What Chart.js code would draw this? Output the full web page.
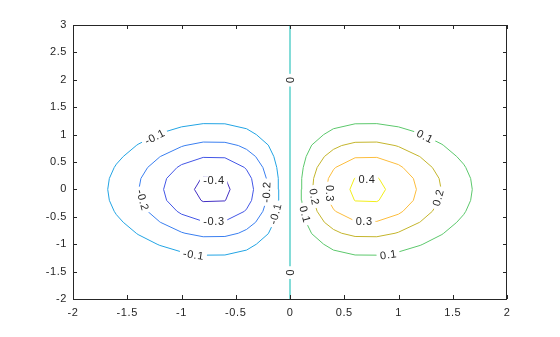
<!DOCTYPE html>
<html>
<head>
<meta charset="utf-8">
<script src="https://cdn.jsdelivr.net/npm/chart.js@4.4.1/dist/chart.umd.min.js"></script>
<style>
  html, body { margin: 0; background: #fff; }
</style>
</head>
<body>
<canvas id="contourChart" width="560" height="337"></canvas>
<script>
// contour of z = x*exp(-x^2-y^2), levels -0.4 .. 0.4

const xTicks = [-2, -1.5, -1, -0.5, 0, 0.5, 1, 1.5, 2];
const yTicks = [-2, -1.5, -1, -0.5, 0, 0.5, 1, 1.5, 2, 2.5, 3];

const levels = [-0.4, -0.3, -0.2, -0.1, 0, 0.1, 0.2, 0.3, 0.4];

// right lobe
const p01x = [0.104, 0.108, 0.122, 0.149, 0.2, 0.31, 0.4, 0.6, 0.8, 1.0, 1.2, 1.225, 1.4, 1.417, 1.537, 1.6, 1.62, 1.665, 1.68, 1.665, 1.62, 1.6, 1.537, 1.417, 1.4, 1.225, 1.2, 1.0, 0.8, 0.6, 0.4, 0.31, 0.2, 0.149, 0.122, 0.108, 0.104];
const p01y = [0, 0.2, 0.4, 0.6, 0.808, 1.0, 1.107, 1.197, 1.2, 1.141, 1.022, 1.0, 0.824, 0.8, 0.6, 0.461, 0.4, 0.2, 0, -0.2, -0.4, -0.461, -0.6, -0.8, -0.824, -1.0, -1.022, -1.141, -1.2, -1.197, -1.107, -1.0, -0.808, -0.6, -0.4, -0.2, 0];
const p02x = [0.209, 0.218, 0.25, 0.317, 0.4, 0.476, 0.6, 0.8, 0.968, 1.0, 1.195, 1.2, 1.312, 1.374, 1.393, 1.374, 1.312, 1.2, 1.195, 1.0, 0.968, 0.8, 0.6, 0.476, 0.4, 0.317, 0.25, 0.218, 0.209];
const p02y = [0, 0.2, 0.4, 0.6, 0.73, 0.8, 0.859, 0.864, 0.8, 0.781, 0.6, 0.593, 0.4, 0.2, 0, -0.2, -0.4, -0.593, -0.6, -0.781, -0.8, -0.864, -0.859, -0.8, -0.73, -0.6, -0.4, -0.2, 0];
const p03x = [0.336, 0.354, 0.4, 0.42, 0.6, 0.8, 1.0, 1.041, 1.137, 1.165, 1.137, 1.041, 1.0, 0.8, 0.6, 0.42, 0.4, 0.354, 0.336];
const p03y = [0, 0.2, 0.357, 0.4, 0.577, 0.584, 0.452, 0.4, 0.2, 0, -0.2, -0.4, -0.452, -0.584, -0.577, -0.4, -0.357, -0.2, 0];
const p04x = [0.552, 0.594, 0.6, 0.8, 0.82, 0.881, 0.82, 0.8, 0.6, 0.594, 0.552];
const p04y = [0, 0.2, 0.21, 0.223, 0.2, 0, -0.2, -0.223, -0.21, -0.2, 0];

// left lobe
const n01x = [-0.104, -0.108, -0.122, -0.149, -0.2, -0.31, -0.4, -0.6, -0.8, -1.0, -1.2, -1.225, -1.4, -1.417, -1.537, -1.6, -1.62, -1.665, -1.68, -1.665, -1.62, -1.6, -1.537, -1.417, -1.4, -1.225, -1.2, -1.0, -0.8, -0.6, -0.4, -0.31, -0.2, -0.149, -0.122, -0.108, -0.104];
const n01y = [0, 0.2, 0.4, 0.6, 0.808, 1.0, 1.107, 1.197, 1.2, 1.141, 1.022, 1.0, 0.824, 0.8, 0.6, 0.461, 0.4, 0.2, 0, -0.2, -0.4, -0.461, -0.6, -0.8, -0.824, -1.0, -1.022, -1.141, -1.2, -1.197, -1.107, -1.0, -0.808, -0.6, -0.4, -0.2, 0];
const n02x = [-0.209, -0.218, -0.25, -0.317, -0.4, -0.476, -0.6, -0.8, -0.968, -1.0, -1.195, -1.2, -1.312, -1.374, -1.393, -1.374, -1.312, -1.2, -1.195, -1.0, -0.968, -0.8, -0.6, -0.476, -0.4, -0.317, -0.25, -0.218, -0.209];
const n02y = [0, 0.2, 0.4, 0.6, 0.73, 0.8, 0.859, 0.864, 0.8, 0.781, 0.6, 0.593, 0.4, 0.2, 0, -0.2, -0.4, -0.593, -0.6, -0.781, -0.8, -0.864, -0.859, -0.8, -0.73, -0.6, -0.4, -0.2, 0];
const n03x = [-0.336, -0.354, -0.4, -0.42, -0.6, -0.8, -1.0, -1.041, -1.137, -1.165, -1.137, -1.041, -1.0, -0.8, -0.6, -0.42, -0.4, -0.354, -0.336];
const n03y = [0, 0.2, 0.357, 0.4, 0.577, 0.584, 0.452, 0.4, 0.2, 0, -0.2, -0.4, -0.452, -0.584, -0.577, -0.4, -0.357, -0.2, 0];
const n04x = [-0.552, -0.594, -0.6, -0.8, -0.82, -0.881, -0.82, -0.8, -0.6, -0.594, -0.552];
const n04y = [0, 0.2, 0.21, 0.223, 0.2, 0, -0.2, -0.223, -0.21, -0.2, 0];

// zero level
const z0x = [0, 0];
const z0y = [-2, 3];

// inline contour labels: text, x, y, angle (deg)
const labelText = ['-0.1', '-0.1', '-0.1', '-0.2', '-0.2', '-0.3', '-0.4', '0', '0', '0.1', '0.1', '0.1', '0.2', '0.2', '0.3', '0.3', '0.4'];
const labelX = [-1.248, -0.892, -0.134, -1.36, -0.216, -0.704, -0.704, 0, 0, 1.241, 0.905, 0.136, 0.222, 1.367, 0.361, 0.681, 0.707];
const labelY = [0.954, -1.194, -0.449, -0.192, -0.053, -0.584, 0.161, 1.993, -1.518, 0.967, -1.194, -0.449, -0.132, -0.156, -0.07, -0.584, 0.174];
const labelAngle = [-27, 8, -75, 75, -88, 0, 0, 90, 90, 27, -8, 75, 80, -75, 90, 0, 0];

const lineColors = {
  '-0.4': '#4430c4', '-0.3': '#4356e6', '-0.2': '#3a7ff0', '-0.1': '#22a4e4',
  '0': '#84dcd8', '0.1': '#5cc86c', '0.2': '#c4b52c', '0.3': '#fcbd3d', '0.4': '#f2ee1a'
};

function pts(xs, ys) {
  return xs.map((x, i) => ({ x: x, y: ys[i] }));
}

function line(lvl, xs, ys, width) {
  return {
    label: String(lvl),
    data: pts(xs, ys),
    showLine: true,
    borderColor: lineColors[String(lvl)],
    borderWidth: width || 1,
    pointRadius: 0,
    tension: 0,
    borderJoinStyle: 'round'
  };
}

const FONT = '"Liberation Sans", Arial, Helvetica, sans-serif';
const TXT = '#262626';

// MATLAB text is a bit wider than Arial at the same size
const spacing = {
  id: 'spacing',
  beforeDraw(chart) { chart.ctx.letterSpacing = '0.6px'; }
};

const contourLabels = {
  id: 'contourLabels',
  afterDatasetsDraw(chart) {
    const ctx = chart.ctx;
    const xs = chart.scales.x, ys = chart.scales.y;
    ctx.save();
    ctx.font = '11px ' + FONT;
    ctx.textAlign = 'center';
    ctx.textBaseline = 'middle';
    labelText.forEach((t, i) => {
      const px = xs.getPixelForValue(labelX[i]);
      const py = ys.getPixelForValue(labelY[i]);
      const w = ctx.measureText(t).width;
      ctx.save();
      ctx.translate(px, py);
      ctx.rotate(labelAngle[i] * Math.PI / 180);
      ctx.fillStyle = '#fff';
      ctx.fillRect(-w / 2 - 3, -4, w + 6, 8);
      ctx.fillStyle = TXT;
      ctx.fillText(t, 0.3, 0.5);
      ctx.restore();
    });
    ctx.restore();
  }
};

const axesBox = {
  id: 'axesBox',
  afterDraw(chart) {
    const ctx = chart.ctx;
    const a = chart.chartArea;
    const xs = chart.scales.x, ys = chart.scales.y;
    const tl = 4;
    ctx.save();
    ctx.strokeStyle = TXT;
    ctx.lineWidth = 1;
    ctx.beginPath();
    ctx.rect(a.left + 0.5, a.top + 0.5, a.right - a.left - 1, a.bottom - a.top);
    xTicks.forEach(v => {
      const px = Math.round(xs.getPixelForValue(v)) + 0.5;
      ctx.moveTo(px, a.bottom); ctx.lineTo(px, a.bottom - tl);
      ctx.moveTo(px, a.top); ctx.lineTo(px, a.top + tl);
    });
    yTicks.forEach(v => {
      const py = Math.round(ys.getPixelForValue(v)) + 0.5;
      ctx.moveTo(a.left, py); ctx.lineTo(a.left + tl, py);
      ctx.moveTo(a.right, py); ctx.lineTo(a.right - tl, py);
    });
    ctx.stroke();
    ctx.restore();
  }
};

new Chart(document.getElementById('contourChart'), {
  type: 'scatter',
  data: {
    datasets: [
      line(-0.4, n04x, n04y), line(-0.3, n03x, n03y), line(-0.2, n02x, n02y), line(-0.1, n01x, n01y),
      line(0, z0x, z0y, 2),
      line(0.1, p01x, p01y), line(0.2, p02x, p02y), line(0.3, p03x, p03y), line(0.4, p04x, p04y)
    ]
  },
  options: {
    responsive: false,
    animation: false,
    layout: { padding: { top: 25, right: 53, left: 0, bottom: 0 } },
    plugins: { legend: { display: false }, tooltip: { enabled: false } },
    scales: {
      x: {
        type: 'linear', min: -2, max: 2,
        grid: { display: false, drawTicks: false },
        border: { display: false },
        afterBuildTicks: s => { s.ticks = xTicks.map(v => ({ value: v })); },
        afterFit: s => { s.height = 38; },
        ticks: { padding: 7, color: TXT, font: { family: FONT, size: 11 }, maxRotation: 0, callback: v => String(v) }
      },
      y: {
        type: 'linear', min: -2, max: 3,
        grid: { display: false, drawTicks: false },
        border: { display: false },
        afterBuildTicks: s => { s.ticks = yTicks.map(v => ({ value: v })); },
        afterFit: s => { s.width = 73; },
        ticks: { padding: 6, color: TXT, font: { family: FONT, size: 11 }, callback: v => String(v) }
      }
    }
  },
  plugins: [spacing, contourLabels, axesBox]
});
</script>
</body>
</html>
